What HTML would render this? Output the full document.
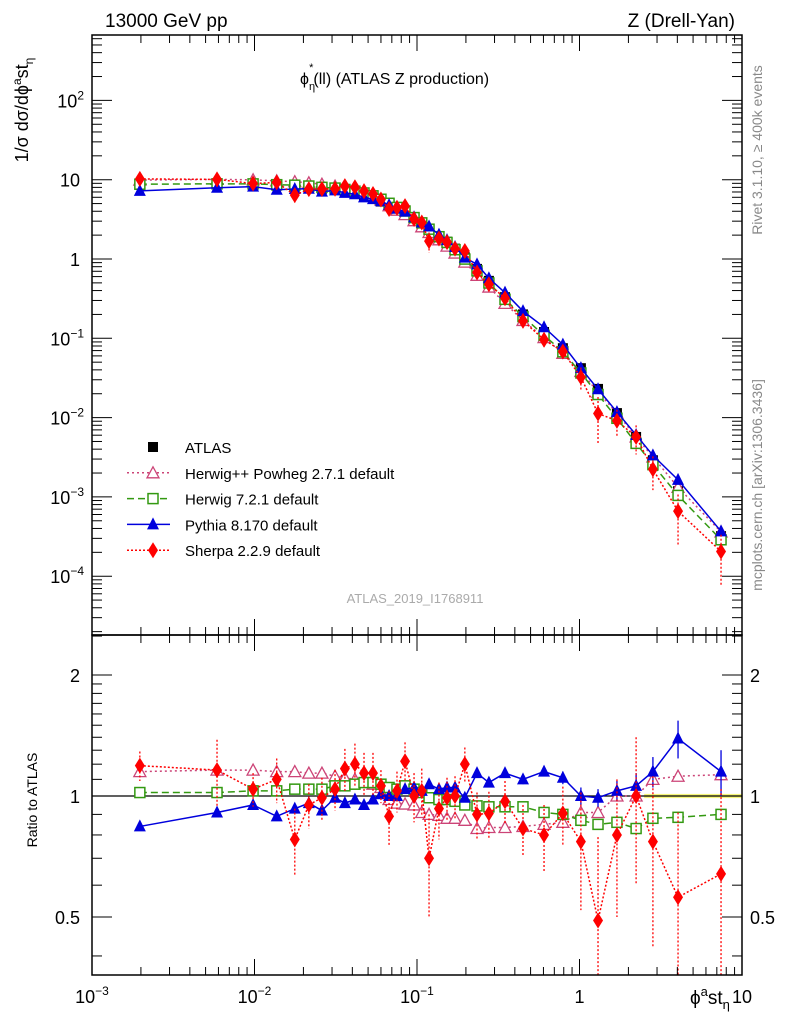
<!DOCTYPE html>
<html><head><meta charset="utf-8">
<style>
html,body{margin:0;padding:0;background:#fff;overflow:hidden;}
svg{display:block;font-family:"Liberation Sans",Arial,sans-serif;}
</style></head>
<body>
<svg id="chart" width="786" height="1024" viewBox="0 0 786 1024" xmlns="http://www.w3.org/2000/svg">
<rect width="786" height="1024" fill="#fff"/>
<text x="105" y="27" font-size="19">13000 GeV pp</text>
<text x="735" y="27" font-size="19" text-anchor="end">Z (Drell-Yan)</text>
<text x="300" y="84" font-size="16">ϕ<tspan dy="6" font-size="11">η</tspan><tspan dx="-6" dy="-19" font-size="11">*</tspan><tspan dy="13">(ll) (ATLAS Z production)</tspan></text>
<text transform="translate(762,150) rotate(-90)" font-size="14" fill="#888" text-anchor="middle">Rivet 3.1.10, ≥ 400k events</text>
<text transform="translate(762,485) rotate(-90)" font-size="14" fill="#888" text-anchor="middle">mcplots.cern.ch [arXiv:1306.3436]</text>
<text x="415" y="603" font-size="13" fill="#aaa" text-anchor="middle">ATLAS_2019_I1768911</text>
<text transform="translate(28,110) rotate(-90)" font-size="18" text-anchor="middle">1/σ dσ/dϕ<tspan dy="-7" font-size="12">a</tspan><tspan dy="7">st</tspan><tspan dy="5" font-size="12">η</tspan></text>
<text transform="translate(37,800) rotate(-90)" font-size="14" text-anchor="middle">Ratio to ATLAS</text>
<text x="690" y="1004" font-size="19">ϕ<tspan dy="-8" font-size="13">a</tspan><tspan dy="8">st</tspan><tspan dy="5" font-size="13">η</tspan></text>
<g id="plots"></g>
<g id="legend"></g>
</svg>
<script>
const xVals=[0.00197,0.00588,0.0098,0.0137,0.0177,0.0216,0.026,0.0313,0.036,0.0415,0.0472,0.0536,0.06,0.0673,0.0753,0.0844,0.0959,0.107,0.1186,0.1365,0.153,0.1714,0.197,0.234,0.277,0.348,0.449,0.605,0.79,1.02,1.3,1.7,2.23,2.83,4.04,7.43];
const atlasVals=[8.6,8.7,8.6,8.4,8.2,8.0,7.7,7.4,7.1,6.7,6.3,5.8,5.3,4.8,4.3,3.8,3.2,2.8,2.4,1.95,1.65,1.35,1.05,0.75,0.53,0.33,0.2,0.12,0.075,0.042,0.023,0.0114,0.0057,0.0029,0.00118,0.00032];
const herwigppRatio=[1.15,1.16,1.16,1.15,1.15,1.14,1.14,1.12,1.11,1.1,1.09,1.07,1.05,0.98,0.96,0.955,0.95,0.91,0.9,0.895,0.88,0.88,0.87,0.83,0.835,0.835,0.84,0.85,0.86,0.91,0.91,1.0,1.0,1.1,1.12,1.13];
const herwig7Ratio=[1.02,1.02,1.03,1.03,1.04,1.04,1.04,1.06,1.06,1.07,1.08,1.08,1.07,1.05,1.04,1.06,1.04,1.02,0.99,0.98,0.98,0.97,0.95,0.945,0.94,0.94,0.94,0.91,0.9,0.87,0.85,0.86,0.83,0.88,0.885,0.9];
const pythiaRatio=[0.84,0.91,0.95,0.89,0.93,0.96,0.92,0.99,0.96,0.98,0.95,0.98,1.01,1.0,1.0,1.04,1.05,1.03,1.07,1.04,1.05,1.05,0.99,1.14,1.08,1.14,1.1,1.15,1.11,1.0,0.99,1.03,1.06,1.15,1.39,1.15];
const pythiaErr=[0.02,0.02,0.02,0.02,0.02,0.02,0.02,0.02,0.02,0.02,0.02,0.02,0.02,0.02,0.02,0.02,0.02,0.02,0.02,0.02,0.02,0.02,0.02,0.03,0.03,0.03,0.03,0.03,0.04,0.05,0.05,0.06,0.08,0.1,0.15,0.15];
const sherpaRatio=[1.19,1.16,1.04,1.1,0.78,0.95,0.99,1.04,1.17,1.2,1.14,1.14,1.06,0.89,1.03,1.22,1.0,1.03,0.7,0.93,0.99,1.0,1.2,0.9,0.905,0.97,0.83,0.8,0.905,0.77,0.49,0.8,1.0,0.77,0.56,0.64];
const sherpaErr=[0.1,0.22,0.1,0.14,0.15,0.12,0.12,0.12,0.14,0.15,0.14,0.14,0.1,0.14,0.12,0.14,0.14,0.14,0.2,0.15,0.12,0.12,0.12,0.12,0.12,0.12,0.12,0.15,0.15,0.25,0.3,0.3,0.4,0.35,0.35,0.4];
const xTickLabels=["10<tspan dy='-8' font-size='12'>−3</tspan>","10<tspan dy='-8' font-size='12'>−2</tspan>","10<tspan dy='-8' font-size='12'>−1</tspan>","1","10"];
const yTickExps=[2,1,0,-1,-2,-3,-4];
const ratioTicks=[2,1,0.5];

const NS="http://www.w3.org/2000/svg";
const L=92,R=742,T=35,MB=635,RB=975;
function xs(v){return L+(Math.log10(v)+3)*162.5;}
function ys(v){return 259-Math.log10(v)*79.3;}
function yr(v){return 796-Math.log2(v)*121;}
const plots=document.getElementById('plots');
function el(tag,attrs,parent){const e=document.createElementNS(NS,tag);for(const k in attrs)e.setAttribute(k,attrs[k]);(parent||plots).appendChild(e);return e;}

const defs=el('defs',{});
const c1=el('clipPath',{id:'cm'},defs);el('rect',{x:L,y:T,width:R-L,height:MB-T},c1);
const c2=el('clipPath',{id:'cr'},defs);el('rect',{x:L,y:MB,width:R-L,height:RB-MB},c2);

const band=el('rect',{x:xs(2.5),y:yr(1.012),width:R-xs(2.5),height:yr(0.988)-yr(1.012),fill:'#f5f57a'});


const unity=el('line',{x1:L,x2:R,y1:yr(1),y2:yr(1),stroke:'#000','stroke-width':1.3});



function marker(type,x,y,color,g){
  if(type==='sq'){return el('rect',{x:x-5,y:y-5,width:10,height:10,fill:'#000'},g);}
  if(type==='osq'){return el('rect',{x:x-5,y:y-5,width:10,height:10,fill:'#fff','stroke':color,'stroke-width':1.5},g);}
  if(type==='otri'){return el('polygon',{points:`${x},${y-6} ${x-6},${y+5} ${x+6},${y+5}`,fill:'#fff',stroke:color,'stroke-width':1.3},g);}
  if(type==='tri'){return el('polygon',{points:`${x},${y-7} ${x-6},${y+5} ${x+6},${y+5}`,fill:color},g);}
  if(type==='dia'){return el('polygon',{points:`${x},${y-8} ${x-5},${y} ${x},${y+8} ${x+5},${y}`,fill:color},g);}
}
const series=[
 {name:'herwigpp',ratio:herwigppRatio,err:null,color:'#cc4477',dash:'2,3',type:'otri'},
 {name:'herwig7',ratio:herwig7Ratio,err:null,color:'#339911',dash:'7,4',type:'osq'},
 {name:'pythia',ratio:pythiaRatio,err:pythiaErr,color:'#0000dd',dash:null,type:'tri'},
 {name:'sherpa',ratio:sherpaRatio,err:sherpaErr,color:'#ff0000',dash:'2,2',type:'dia'}
];
const gA=el('g',{'clip-path':'url(#cm)'});


atlasVals.forEach((v,i)=>{const m=marker('sq',xs(xVals[i]),ys(v),'#000',gA);

});
series.forEach(s=>{
  const gm=el('g',{'clip-path':'url(#cm)'});
  
  
  const gr=el('g',{'clip-path':'url(#cr)'});
  
  
  const pm=xVals.map((x,i)=>xs(x)+','+ys(atlasVals[i]*s.ratio[i])).join(' ');
  const pr=xVals.map((x,i)=>xs(x)+','+yr(s.ratio[i])).join(' ');
  const la={fill:'none',stroke:s.color,'stroke-width':1.5};if(s.dash)la['stroke-dasharray']=s.dash;
  el('polyline',Object.assign({points:pm},la),gm);
  el('polyline',Object.assign({points:pr},la),gr);
  xVals.forEach((x,i)=>{
    const r=s.ratio[i];
    if(s.err){
      const ea={stroke:s.color,'stroke-width':1.3};if(s.dash)ea['stroke-dasharray']=s.dash;
      el('line',Object.assign({x1:xs(x),x2:xs(x),y1:yr(r+s.err[i]),y2:yr(Math.max(r-s.err[i],0.2))},ea),gr);
      el('line',Object.assign({x1:xs(x),x2:xs(x),y1:ys(atlasVals[i]*(r+s.err[i])),y2:ys(atlasVals[i]*Math.max(r-s.err[i],0.2))},ea),gm);
    }
    const m1=marker(s.type,xs(x),ys(atlasVals[i]*r),s.color,gm);
    
    
    const m2=marker(s.type,xs(x),yr(r),s.color,gr);
    
    
  });
});

el('rect',{x:L,y:T,width:R-L,height:MB-T,fill:'none',stroke:'#000','stroke-width':1.5});
el('rect',{x:L,y:MB,width:R-L,height:RB-MB,fill:'none',stroke:'#000','stroke-width':1.5});
const ax=el('g',{});


for(let d=-3;d<1;d++){for(let k=1;k<10;k++){const v=k*Math.pow(10,d);const x=xs(v);const len=k===1?16:8;
  [[T,T+len],[MB,MB-len],[MB,MB+len],[RB,RB-len]].forEach(p=>el('line',{x1:x,x2:x,y1:p[0],y2:p[1],stroke:'#000','stroke-width':1},ax));}}
xTickLabels.forEach((t,i)=>{const tx=el('text',{x:L+i*162.5,y:1003,'font-size':18,'text-anchor':'middle'},ax);tx.innerHTML=t;

});
const ay=el('g',{});


for(let d=-5;d<3;d++){for(let k=1;k<10;k++){const v=k*Math.pow(10,d);const y=ys(v);if(y<T||y>MB)continue;const len=k===1?20:10;
  el('line',{x1:L,x2:L+len,y1:y,y2:y,stroke:'#000'},ay);el('line',{x1:R,x2:R-len,y1:y,y2:y,stroke:'#000'},ay);}}
yTickExps.forEach(e=>{const t=el('text',{x:e===0?80:(e===1?80:84),y:ys(Math.pow(10,e))+7,'font-size':18,'text-anchor':'end'},ay);
t.innerHTML=e===0?'1':(e===1?'10':"10<tspan dy='-8' font-size='12'>"+(e<0?'−'+(-e):e)+"</tspan>");

});
const ar=el('g',{});


[0.4,0.5,0.6,0.7,0.8,0.9,1,1.1,1.2,1.3,1.4,1.5,1.6,1.7,1.8,1.9,2,2.5].forEach(v=>{const y=yr(v);if(y<MB||y>RB)return;const len=(v===0.5||v===1||v===2)?20:10;
  el('line',{x1:L,x2:L+len,y1:y,y2:y,stroke:'#000'},ar);el('line',{x1:R,x2:R-len,y1:y,y2:y,stroke:'#000'},ar);});
ratioTicks.forEach(v=>{[[80,'end'],[750,'start']].forEach(p=>{const t=el('text',{x:p[0],y:yr(v)+7,'font-size':18,'text-anchor':p[1]},ar);t.textContent=String(v);

});});

const lg=document.getElementById('legend');
const legItems=[['ATLAS','sq','#000',null],['Herwig++ Powheg 2.7.1 default','otri','#cc4477','2,3'],['Herwig 7.2.1 default','osq','#339911','7,4'],['Pythia 8.170 default','tri','#0000dd',null],['Sherpa 2.2.9 default','dia','#ff0000','2,2']];
legItems.forEach((it,i)=>{const y=447+i*25.8;const g=el('g',{},lg);
  
  
  if(i>0){const a={x1:127,x2:170,y1:y,y2:y,stroke:it[2],'stroke-width':1.5};if(it[3])a['stroke-dasharray']=it[3];el('line',a,g);}
  marker(it[1],153,y,it[2],g);
  const t=el('text',{x:185,y:y+6,'font-size':15},g);t.textContent=it[0];});
</script>
</body></html>
